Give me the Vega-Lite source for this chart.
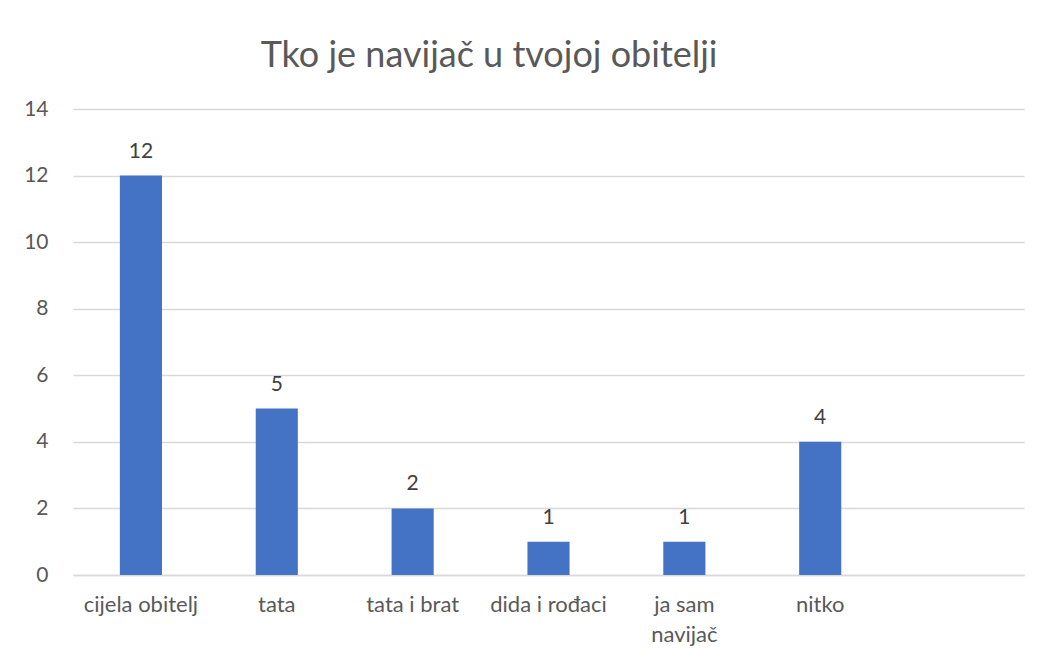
{
  "$schema": "https://vega.github.io/schema/vega-lite/v6.json",
  "width": 951,
  "height": 466,
  "autosize": {"type": "none"},
  "padding": {"left": 73, "top": 109, "right": 17, "bottom": 85},
  "background": "white",
  "title": {
    "text": "Tko je navijač u tvojoj obitelji",
    "anchor": "start",
    "dx": 237,
    "offset": 23,
    "fontSize": 36,
    "font": "Lato",
    "fontWeight": "normal",
    "color": "#595959"
  },
  "data": {
    "values": [
      {"kategorija": "cijela obitelj", "broj": 12},
      {"kategorija": "tata", "broj": 5},
      {"kategorija": "tata i brat", "broj": 2},
      {"kategorija": "dida i rođaci", "broj": 1},
      {"kategorija": "ja sam navijač", "broj": 1},
      {"kategorija": "nitko", "broj": 4},
      {"kategorija": " ", "broj": null}
    ]
  },
  "encoding": {
    "x": {
      "field": "kategorija",
      "type": "nominal",
      "sort": null,
      "scale": {
        "domain": ["cijela obitelj", "tata", "tata i brat", "dida i rođaci", "ja sam navijač", "nitko", " "],
        "paddingInner": 0.69,
        "paddingOuter": 0.345
      },
      "axis": {
        "title": null,
        "labelAngle": 0,
        "labelFont": "Lato",
        "labelFontSize": 22,
        "labelColor": "#595959",
        "labelPadding": 19,
        "ticks": false,
        "domainColor": "#d9d9d9",
        "domainWidth": 1.5,
        "labelLineHeight": 30,
        "labelExpr": "datum.label == 'ja sam navijač' ? ['ja sam', 'navijač'] : datum.label"
      }
    },
    "y": {
      "field": "broj",
      "type": "quantitative",
      "scale": {"domain": [0, 14]},
      "axis": {
        "title": null,
        "values": [0, 2, 4, 6, 8, 10, 12, 14],
        "labelFont": "Lato",
        "labelFontSize": 21,
        "labelColor": "#595959",
        "labelPadding": 25,
        "ticks": false,
        "domain": false,
        "gridColor": "#d9d9d9",
        "gridWidth": 1.5
      }
    }
  },
  "layer": [
    {"mark": {"type": "bar", "color": "#4472C4"}},
    {
      "mark": {
        "type": "text",
        "baseline": "alphabetic",
        "dy": -18,
        "font": "Lato",
        "fontSize": 21,
        "color": "#404040"
      },
      "encoding": {"text": {"field": "broj", "type": "quantitative"}}
    }
  ],
  "config": {"view": {"stroke": null}}
}
